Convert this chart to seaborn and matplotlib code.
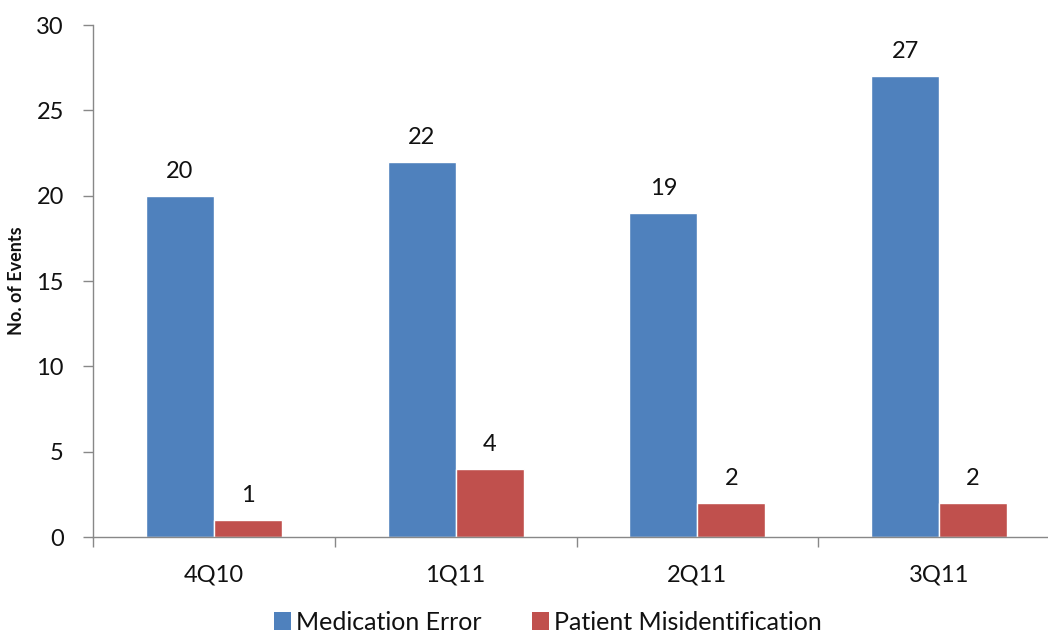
import matplotlib
matplotlib.use("Agg")
import matplotlib.pyplot as plt
from matplotlib.patches import Patch
from matplotlib.ticker import FixedLocator
import seaborn as sns
import pandas as pd

quarters = ["4Q10", "1Q11", "2Q11", "3Q11"]
medication_error = [20, 22, 19, 27]
patient_misid = [1, 4, 2, 2]
series_names = ["Medication Error", "Patient Misidentification"]
colors = ["#4F81BD", "#C0504D"]

df = pd.DataFrame({
    "Quarter": quarters * 2,
    "Events": medication_error + patient_misid,
    "Type": [series_names[0]] * 4 + [series_names[1]] * 4,
})

sns.set_style("white")
plt.rcParams["font.family"] = ["Lato", "DejaVu Sans"]

fig = plt.figure(figsize=(10.48, 6.33), dpi=100)
ax = fig.add_axes([93 / 1048, 96 / 633, 967 / 1048, 512 / 633])

sns.barplot(data=df, x="Quarter", y="Events", hue="Type", palette=colors,
            width=0.562, saturation=1, ax=ax, legend=False)

for container in ax.containers:
    ax.bar_label(container, fmt="%d", padding=10, fontsize=17, color="#111111")

ax.set_ylim(0, 30)
ax.set_yticks(range(0, 31, 5))
ax.set_xlim(-0.5, 3.5)
ax.set_xlabel("")
ax.set_ylabel("No. of Events", fontsize=13, fontweight="bold", labelpad=8,
              color="#111111")

ax.tick_params(axis="y", which="major", length=7, width=1, color="#888888",
               direction="out", labelsize=17, pad=14, left=True,
               labelcolor="#111111")
ax.tick_params(axis="x", which="major", length=0, labelsize=17, pad=20,
               labelcolor="#111111")
ax.xaxis.set_minor_locator(FixedLocator([-0.5, 0.5, 1.5, 2.5, 3.5]))
ax.tick_params(axis="x", which="minor", length=7, width=1, color="#888888",
               direction="out", bottom=True)

for side in ["top", "right"]:
    ax.spines[side].set_visible(False)
for side in ["left", "bottom"]:
    ax.spines[side].set_color("#888888")
    ax.spines[side].set_linewidth(1)

handles = [Patch(facecolor=c, edgecolor="none") for c in colors]
fig.legend(handles, series_names, loc="center", bbox_to_anchor=(548 / 1048, 11 / 633),
           ncol=2, frameon=False, fontsize=18, handlelength=0.7, handleheight=0.7,
           handletextpad=0.2, columnspacing=2.0, labelcolor="#111111")

fig.savefig("out.png", dpi=100, facecolor="white")
